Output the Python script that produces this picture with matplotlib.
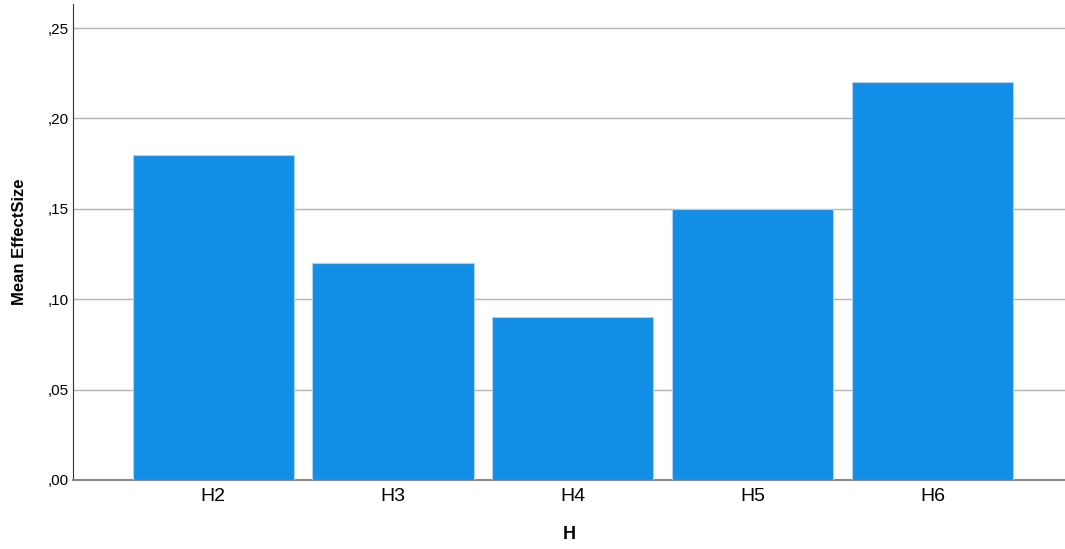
import matplotlib
matplotlib.use("Agg")
from matplotlib import pyplot as plt
from matplotlib.ticker import FuncFormatter

categories = ["H2", "H3", "H4", "H5", "H6"]
effect = [0.18, 0.12, 0.09, 0.15, 0.22]
yticks = [0.0, 0.05, 0.10, 0.15, 0.20, 0.25]

plt.rcParams['font.family'] = ['Liberation Sans', 'DejaVu Sans']

fig = plt.figure(figsize=(10.65, 5.49), dpi=100)
ax = fig.add_axes([0.0685, 0.1257, 0.9315, 0.867])

x = range(len(categories))
ax.bar(x, effect, width=0.897, color='#138ee6', edgecolor='#a9d2f3', linewidth=0.8, zorder=3)

ax.set_xlim(-0.78, 4.737)
ax.set_ylim(0, 0.2633)
ax.set_yticks(yticks)
ax.yaxis.set_major_formatter(FuncFormatter(lambda v, p: ("%.2f" % v).replace("0.", ",", 1)))
ax.set_xticks(list(x))
ax.set_xticklabels(categories, fontsize=14)
ax.tick_params(axis='y', labelsize=11, length=0, pad=3)
ax.tick_params(axis='x', length=0, pad=6)

ax.grid(axis='y', color='#b4b4b4', linewidth=1, zorder=0)
for s in ['top', 'right']:
    ax.spines[s].set_visible(False)
ax.spines['left'].set_color('#333333')
ax.spines['bottom'].set_color('#888888')
ax.spines['bottom'].set_linewidth(1.5)

ax.set_xlabel('H', fontsize=13, fontweight='bold', labelpad=15)
ax.set_ylabel('Mean EffectSize', fontsize=12, fontweight='bold')
ax.yaxis.set_label_coords(-0.046, 0.5)

fig.savefig('out.png', dpi=100)
